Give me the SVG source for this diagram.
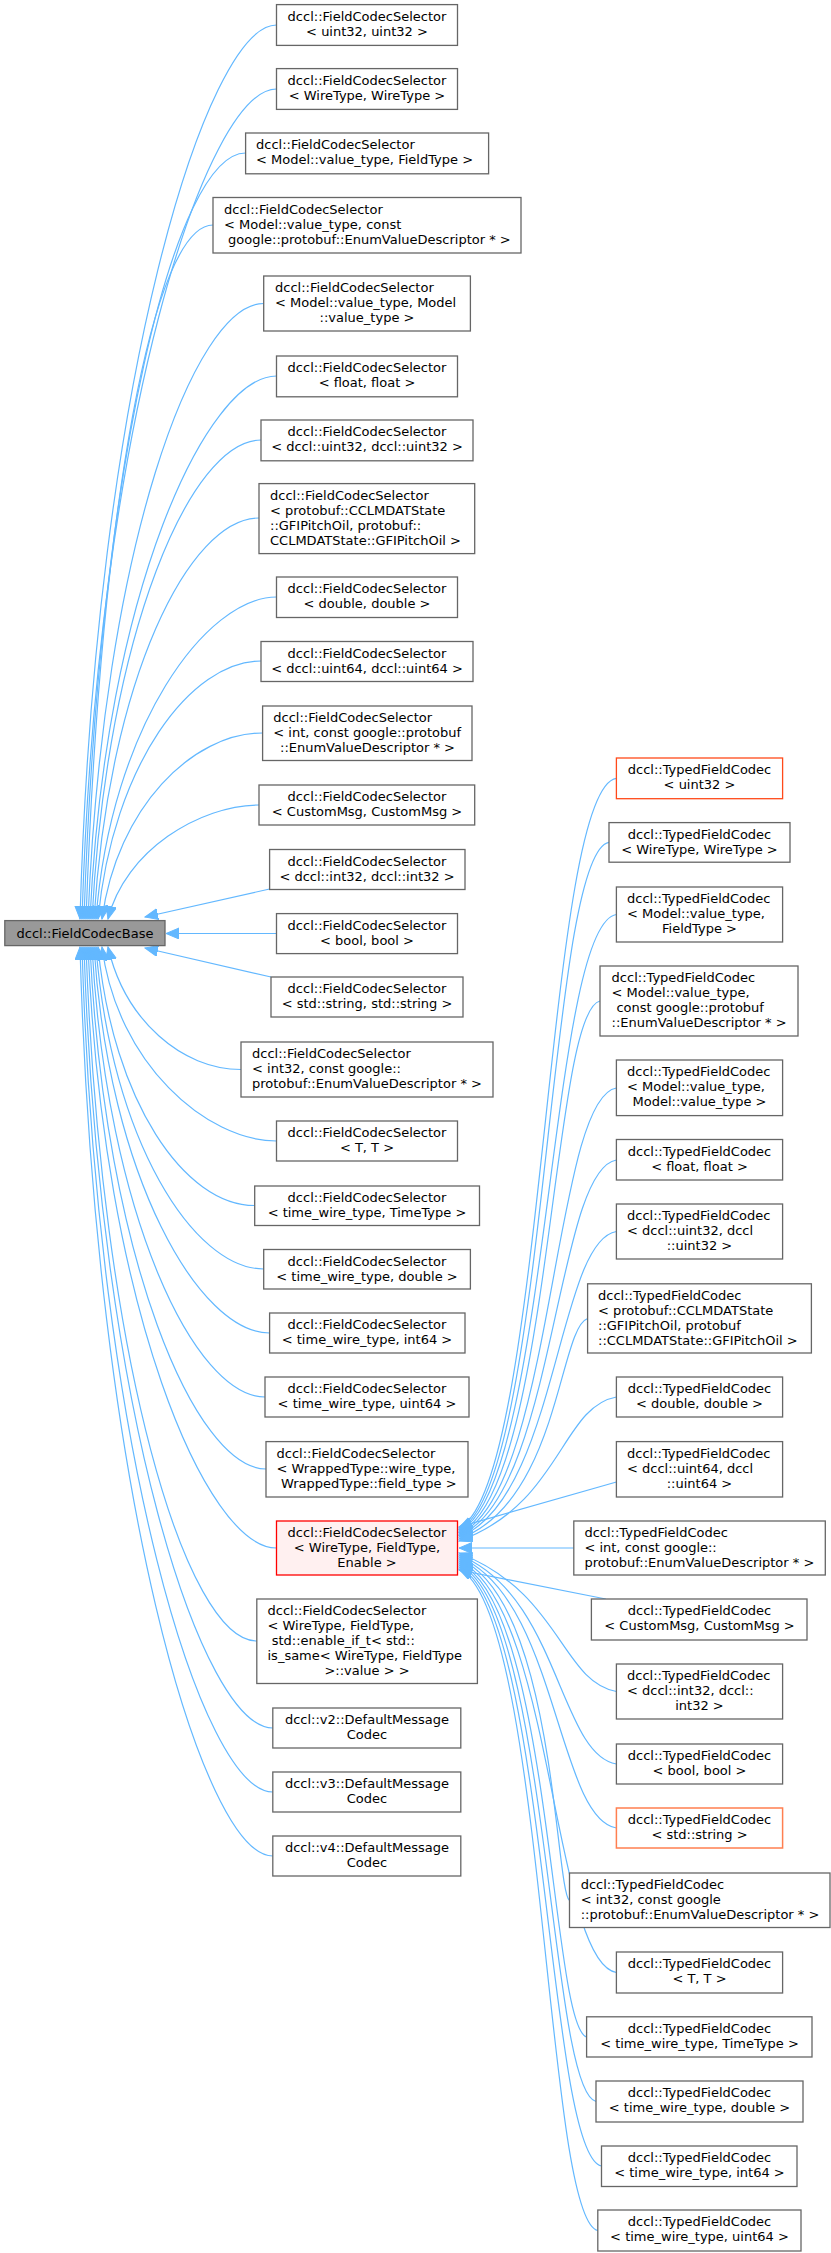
<svg xmlns="http://www.w3.org/2000/svg" width="831" height="2253" viewBox="0 0 831 2253">
<style>
text{font-family:"DejaVu Sans","Liberation Sans",sans-serif;font-size:13px;fill:#000}
.c{text-anchor:middle}
.b{fill:#fff;stroke:#666;stroke-width:1.3}
.base{fill:#999;stroke:#666;stroke-width:1.3}
.red{fill:#fff0f0;stroke:#f00;stroke-width:1.3}
.or{fill:#fff;stroke:#ff7f50;stroke-width:1.5}
.or2{fill:#fff;stroke:#ff4a1a;stroke-width:1.3}
.e{fill:none;stroke:#63b8ff;stroke-width:1.2;marker-end:url(#a)}
</style>
<defs><marker id="a" markerUnits="userSpaceOnUse" markerWidth="14" markerHeight="12" refX="13" refY="5.5" orient="auto"><path d="M0,0 L13,5.5 L0,11 z" fill="#63b8ff" stroke="#63b8ff"/></marker></defs>
<g id="edges">
<path class="e" d="M276.5,25 C206.5,25 95,382.6 80,919"/>
<path class="e" d="M276.5,89 C206.5,89 97,421 82,919"/>
<path class="e" d="M245.6,153 C175.6,153 99,459.4 84,919"/>
<path class="e" d="M213,225 C153,225 101,502.6 86,919"/>
<path class="e" d="M263.7,303.5 C193.7,303.5 103,549.7 88,919"/>
<path class="e" d="M276.5,376 C206.5,376 105,593.2 90,919"/>
<path class="e" d="M261,440 C191,440 107,631.6 92,919"/>
<path class="e" d="M259,518 C189,518 109,678.4 94,919"/>
<path class="e" d="M276.5,597 C206.5,597 111,725.8 96,919"/>
<path class="e" d="M261,661 C191,661 113,764.2 98,919"/>
<path class="e" d="M262.6,733 C192.6,733 117,807.4 102,919"/>
<path class="e" d="M259,805 C200,805 125,850.6 108,919"/>
<path class="e" d="M269.6,889 L145,917"/>
<path class="e" d="M276.5,933.5 L166,933.5"/>
<path class="e" d="M271,977 L145,948"/>
<path class="e" d="M241,1069.5 C182,1069.5 125,1020.5 108,947"/>
<path class="e" d="M276.5,1141 C206.5,1141 117,1063.4 102,947"/>
<path class="e" d="M254.7,1205.5 C184.7,1205.5 113,1102 98,947"/>
<path class="e" d="M263.7,1269 C193.7,1269 111,1140.2 96,947"/>
<path class="e" d="M269.6,1333 C199.6,1333 109,1178.6 94,947"/>
<path class="e" d="M265,1397 C195,1397 107,1217 92,947"/>
<path class="e" d="M266,1469 C196,1469 105,1260.2 90,947"/>
<path class="e" d="M276.5,1548 C206.5,1548 103,1307.6 88,947"/>
<path class="e" d="M256.8,1641 C186.8,1641 101,1363.4 86,947"/>
<path class="e" d="M272.8,1728 C202.8,1728 99,1415.6 84,947"/>
<path class="e" d="M272.8,1792 C202.8,1792 97,1454 82,947"/>
<path class="e" d="M272.8,1856 C202.8,1856 95,1492.4 80,947"/>
<path class="e" d="M616.4,778.4 C545,788 545,1488 459,1528"/>
<path class="e" d="M609,842.3 C547,852 547,1490 459,1529.5"/>
<path class="e" d="M616.4,914.5 C549,924 549,1492 459,1531"/>
<path class="e" d="M600,1001 C551,1011 551,1494 459,1532.5"/>
<path class="e" d="M616.4,1088 C553,1098 553,1496 459,1534"/>
<path class="e" d="M616.4,1160 C555,1170 555,1498 459,1535.5"/>
<path class="e" d="M616.4,1231.5 C557,1241 557,1500 459,1537"/>
<path class="e" d="M587.6,1318.5 C559,1328 559,1502 459,1539"/>
<path class="e" d="M616.4,1397 C561,1407 561,1504 459,1541"/>
<path class="e" d="M616.4,1482 L459,1527"/>
<path class="e" d="M573.8,1548 L459,1548"/>
<path class="e" d="M605.8,1599 L459,1570"/>
<path class="e" d="M616.4,1691.5 C561,1681 561,1593 459,1553"/>
<path class="e" d="M616.4,1764 C559,1754 559,1595 459,1555"/>
<path class="e" d="M616.4,1828 C557,1818 557,1597 459,1557"/>
<path class="e" d="M569.5,1900.5 C555,1890 555,1599 459,1559"/>
<path class="e" d="M616.4,1972.5 C553,1962 553,1601 459,1561"/>
<path class="e" d="M586.6,2037 C551,2027 551,1603 459,1563"/>
<path class="e" d="M596,2101.5 C549,2091 549,1605 459,1565"/>
<path class="e" d="M601.5,2166 C547,2156 547,1607 459,1567"/>
<path class="e" d="M597.8,2230.5 C545,2220 545,1609 459,1569"/>
</g>
<g id="base"><rect class="base" x="4.8" y="920.6" width="160.2" height="25"/><text class="c" x="85" y="937.5">dccl::FieldCodecBase</text></g>
<g id="n1"><rect class="b" x="276.5" y="4.6" width="181" height="40.8"/><text class="c" x="367" y="20.9">dccl::FieldCodecSelector</text><text class="c" x="367" y="35.9">&lt; uint32, uint32 &gt;</text></g>
<g id="n2"><rect class="b" x="276.5" y="68.6" width="181" height="40.8"/><text class="c" x="367" y="84.9">dccl::FieldCodecSelector</text><text class="c" x="367" y="99.9">&lt; WireType, WireType &gt;</text></g>
<g id="n3"><rect class="b" x="245.6" y="133" width="243" height="40.8"/><text x="256" y="149.3">dccl::FieldCodecSelector</text><text x="256" y="164.3">&lt; Model::value_type, FieldType &gt;</text></g>
<g id="n4"><rect class="b" x="213" y="197.5" width="308" height="55.5"/><text x="224" y="213.8">dccl::FieldCodecSelector</text><text x="224" y="228.8">&lt; Model::value_type, const</text><text x="228" y="243.8">google::protobuf::EnumValueDescriptor * &gt;</text></g>
<g id="n5"><rect class="b" x="263.7" y="276" width="206.7" height="55"/><text x="275" y="292.3">dccl::FieldCodecSelector</text><text x="275" y="307.3">&lt; Model::value_type, Model</text><text class="c" x="367" y="322.3">::value_type &gt;</text></g>
<g id="n6"><rect class="b" x="276.5" y="356" width="181" height="40.8"/><text class="c" x="367" y="372.3">dccl::FieldCodecSelector</text><text class="c" x="367" y="387.3">&lt; float, float &gt;</text></g>
<g id="n7"><rect class="b" x="261" y="420" width="212" height="40.8"/><text class="c" x="367" y="436.3">dccl::FieldCodecSelector</text><text class="c" x="367" y="451.3">&lt; dccl::uint32, dccl::uint32 &gt;</text></g>
<g id="n8"><rect class="b" x="259" y="483.6" width="215.7" height="70"/><text x="270" y="499.9">dccl::FieldCodecSelector</text><text x="270" y="514.9">&lt; protobuf::CCLMDATState</text><text x="270" y="529.9">::GFIPitchOil, protobuf::</text><text x="270" y="544.9">CCLMDATState::GFIPitchOil &gt;</text></g>
<g id="n9"><rect class="b" x="276.5" y="577" width="181" height="40.5"/><text class="c" x="367" y="593.3">dccl::FieldCodecSelector</text><text class="c" x="367" y="608.3">&lt; double, double &gt;</text></g>
<g id="n10"><rect class="b" x="261" y="641.5" width="212" height="40"/><text class="c" x="367" y="657.8">dccl::FieldCodecSelector</text><text class="c" x="367" y="672.8">&lt; dccl::uint64, dccl::uint64 &gt;</text></g>
<g id="n11"><rect class="b" x="262.6" y="706" width="209.4" height="54.5"/><text x="273.3" y="722.3">dccl::FieldCodecSelector</text><text x="273.3" y="737.3">&lt; int, const google::protobuf</text><text x="280" y="752.3">::EnumValueDescriptor * &gt;</text></g>
<g id="n12"><rect class="b" x="259" y="785" width="215.7" height="40"/><text class="c" x="367" y="801.3">dccl::FieldCodecSelector</text><text class="c" x="367" y="816.3">&lt; CustomMsg, CustomMsg &gt;</text></g>
<g id="n13"><rect class="b" x="269.6" y="849.5" width="195.4" height="40"/><text class="c" x="367" y="865.8">dccl::FieldCodecSelector</text><text class="c" x="367" y="880.8">&lt; dccl::int32, dccl::int32 &gt;</text></g>
<g id="n14"><rect class="b" x="276.5" y="913.6" width="181" height="40"/><text class="c" x="367" y="929.9">dccl::FieldCodecSelector</text><text class="c" x="367" y="944.9">&lt; bool, bool &gt;</text></g>
<g id="n15"><rect class="b" x="271" y="977" width="192" height="40"/><text class="c" x="367" y="993.3">dccl::FieldCodecSelector</text><text class="c" x="367" y="1008.3">&lt; std::string, std::string &gt;</text></g>
<g id="n16"><rect class="b" x="241" y="1042" width="252" height="55"/><text x="252" y="1058.3">dccl::FieldCodecSelector</text><text x="252" y="1073.3">&lt; int32, const google::</text><text x="252" y="1088.3">protobuf::EnumValueDescriptor * &gt;</text></g>
<g id="n17"><rect class="b" x="276.5" y="1121" width="181" height="40"/><text class="c" x="367" y="1137.3">dccl::FieldCodecSelector</text><text class="c" x="367" y="1152.3">&lt; T, T &gt;</text></g>
<g id="n18"><rect class="b" x="254.7" y="1186" width="224.8" height="39.5"/><text class="c" x="367" y="1202.3">dccl::FieldCodecSelector</text><text class="c" x="367" y="1217.3">&lt; time_wire_type, TimeType &gt;</text></g>
<g id="n19"><rect class="b" x="263.7" y="1249.5" width="206.7" height="39.5"/><text class="c" x="367" y="1265.8">dccl::FieldCodecSelector</text><text class="c" x="367" y="1280.8">&lt; time_wire_type, double &gt;</text></g>
<g id="n20"><rect class="b" x="269.6" y="1313" width="195.4" height="40"/><text class="c" x="367" y="1329.3">dccl::FieldCodecSelector</text><text class="c" x="367" y="1344.3">&lt; time_wire_type, int64 &gt;</text></g>
<g id="n21"><rect class="b" x="265" y="1377" width="204" height="40"/><text class="c" x="367" y="1393.3">dccl::FieldCodecSelector</text><text class="c" x="367" y="1408.3">&lt; time_wire_type, uint64 &gt;</text></g>
<g id="n22"><rect class="b" x="266" y="1441.6" width="202" height="55.4"/><text x="276.5" y="1457.9">dccl::FieldCodecSelector</text><text x="276.5" y="1472.9">&lt; WrappedType::wire_type,</text><text x="281" y="1487.9">WrappedType::field_type &gt;</text></g>
<g id="n23"><rect class="red" x="276.5" y="1521" width="181" height="54"/><text class="c" x="367" y="1537.3">dccl::FieldCodecSelector</text><text class="c" x="367" y="1552.3">&lt; WireType, FieldType,</text><text class="c" x="367" y="1567.3">Enable &gt;</text></g>
<g id="n24"><rect class="b" x="256.8" y="1599" width="220.6" height="84.5"/><text x="267.5" y="1615.3">dccl::FieldCodecSelector</text><text x="267.5" y="1630.3">&lt; WireType, FieldType,</text><text x="271.7" y="1645.3">std::enable_if_t&lt; std::</text><text x="267.5" y="1660.3">is_same&lt; WireType, FieldType</text><text class="c" x="367" y="1675.3">&gt;::value &gt; &gt;</text></g>
<g id="n25"><rect class="b" x="272.8" y="1708" width="188" height="40"/><text class="c" x="367" y="1724.3">dccl::v2::DefaultMessage</text><text class="c" x="367" y="1739.3">Codec</text></g>
<g id="n26"><rect class="b" x="272.8" y="1772" width="188" height="40"/><text class="c" x="367" y="1788.3">dccl::v3::DefaultMessage</text><text class="c" x="367" y="1803.3">Codec</text></g>
<g id="n27"><rect class="b" x="272.8" y="1836" width="188" height="40"/><text class="c" x="367" y="1852.3">dccl::v4::DefaultMessage</text><text class="c" x="367" y="1867.3">Codec</text></g>
<g id="r1"><rect class="or2" x="616.4" y="758" width="166.2" height="40.7"/><text class="c" x="699.5" y="774.3">dccl::TypedFieldCodec</text><text class="c" x="699.5" y="789.3">&lt; uint32 &gt;</text></g>
<g id="r2"><rect class="b" x="609" y="822.6" width="181" height="39.6"/><text class="c" x="699.5" y="838.9">dccl::TypedFieldCodec</text><text class="c" x="699.5" y="853.9">&lt; WireType, WireType &gt;</text></g>
<g id="r3"><rect class="b" x="616.4" y="887" width="166.2" height="55"/><text x="627" y="903.3">dccl::TypedFieldCodec</text><text x="627" y="918.3">&lt; Model::value_type,</text><text class="c" x="699.5" y="933.3">FieldType &gt;</text></g>
<g id="r4"><rect class="b" x="600" y="966" width="198" height="70"/><text x="611.6" y="982.3">dccl::TypedFieldCodec</text><text x="611.6" y="997.3">&lt; Model::value_type,</text><text x="616.4" y="1012.3">const google::protobuf</text><text x="611.6" y="1027.3">::EnumValueDescriptor * &gt;</text></g>
<g id="r5"><rect class="b" x="616.4" y="1060" width="166.2" height="55.6"/><text x="627" y="1076.3">dccl::TypedFieldCodec</text><text x="627" y="1091.3">&lt; Model::value_type,</text><text class="c" x="699.5" y="1106.3">Model::value_type &gt;</text></g>
<g id="r6"><rect class="b" x="616.4" y="1139.5" width="166.2" height="40.5"/><text class="c" x="699.5" y="1155.8">dccl::TypedFieldCodec</text><text class="c" x="699.5" y="1170.8">&lt; float, float &gt;</text></g>
<g id="r7"><rect class="b" x="616.4" y="1204" width="166.2" height="55"/><text x="627" y="1220.3">dccl::TypedFieldCodec</text><text x="627" y="1235.3">&lt; dccl::uint32, dccl</text><text class="c" x="699.5" y="1250.3">::uint32 &gt;</text></g>
<g id="r8"><rect class="b" x="587.6" y="1283.8" width="223.8" height="69.2"/><text x="598" y="1300.1">dccl::TypedFieldCodec</text><text x="598" y="1315.1">&lt; protobuf::CCLMDATState</text><text x="598" y="1330.1">::GFIPitchOil, protobuf</text><text x="598" y="1345.1">::CCLMDATState::GFIPitchOil &gt;</text></g>
<g id="r9"><rect class="b" x="616.4" y="1377" width="166.2" height="40"/><text class="c" x="699.5" y="1393.3">dccl::TypedFieldCodec</text><text class="c" x="699.5" y="1408.3">&lt; double, double &gt;</text></g>
<g id="r10"><rect class="b" x="616.4" y="1441.6" width="166.2" height="55.4"/><text x="627" y="1457.9">dccl::TypedFieldCodec</text><text x="627" y="1472.9">&lt; dccl::uint64, dccl</text><text class="c" x="699.5" y="1487.9">::uint64 &gt;</text></g>
<g id="r11"><rect class="b" x="573.8" y="1521" width="251.5" height="54"/><text x="584.4" y="1537.3">dccl::TypedFieldCodec</text><text x="584.4" y="1552.3">&lt; int, const google::</text><text x="584.4" y="1567.3">protobuf::EnumValueDescriptor * &gt;</text></g>
<g id="r12"><rect class="b" x="591.4" y="1599" width="215.6" height="41"/><text class="c" x="699.5" y="1615.3">dccl::TypedFieldCodec</text><text class="c" x="699.5" y="1630.3">&lt; CustomMsg, CustomMsg &gt;</text></g>
<g id="r13"><rect class="b" x="616.4" y="1664" width="166.2" height="55"/><text x="627" y="1680.3">dccl::TypedFieldCodec</text><text x="627" y="1695.3">&lt; dccl::int32, dccl::</text><text class="c" x="699.5" y="1710.3">int32 &gt;</text></g>
<g id="r14"><rect class="b" x="616.4" y="1744" width="166.2" height="40"/><text class="c" x="699.5" y="1760.3">dccl::TypedFieldCodec</text><text class="c" x="699.5" y="1775.3">&lt; bool, bool &gt;</text></g>
<g id="r15"><rect class="or" x="616.4" y="1808" width="166.2" height="40"/><text class="c" x="699.5" y="1824.3">dccl::TypedFieldCodec</text><text class="c" x="699.5" y="1839.3">&lt; std::string &gt;</text></g>
<g id="r16"><rect class="b" x="569.5" y="1873" width="260.5" height="54.5"/><text x="580.7" y="1889.3">dccl::TypedFieldCodec</text><text x="580.7" y="1904.3">&lt; int32, const google</text><text x="580.7" y="1919.3">::protobuf::EnumValueDescriptor * &gt;</text></g>
<g id="r17"><rect class="b" x="616.4" y="1952" width="166.2" height="41"/><text class="c" x="699.5" y="1968.3">dccl::TypedFieldCodec</text><text class="c" x="699.5" y="1983.3">&lt; T, T &gt;</text></g>
<g id="r18"><rect class="b" x="586.6" y="2016.8" width="225.4" height="40.2"/><text class="c" x="699.5" y="2033.1">dccl::TypedFieldCodec</text><text class="c" x="699.5" y="2048.1">&lt; time_wire_type, TimeType &gt;</text></g>
<g id="r19"><rect class="b" x="596" y="2081" width="207" height="41"/><text class="c" x="699.5" y="2097.3">dccl::TypedFieldCodec</text><text class="c" x="699.5" y="2112.3">&lt; time_wire_type, double &gt;</text></g>
<g id="r20"><rect class="b" x="601.5" y="2146" width="195.5" height="40.5"/><text class="c" x="699.5" y="2162.3">dccl::TypedFieldCodec</text><text class="c" x="699.5" y="2177.3">&lt; time_wire_type, int64 &gt;</text></g>
<g id="r21"><rect class="b" x="597.8" y="2210" width="203.2" height="41"/><text class="c" x="699.5" y="2226.3">dccl::TypedFieldCodec</text><text class="c" x="699.5" y="2241.3">&lt; time_wire_type, uint64 &gt;</text></g>
</svg>
